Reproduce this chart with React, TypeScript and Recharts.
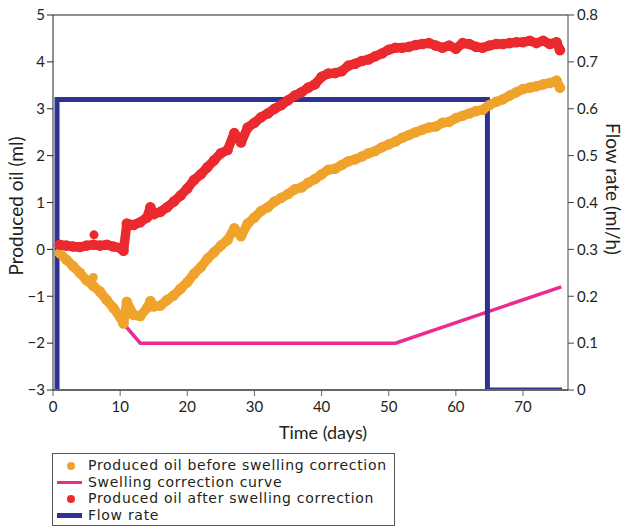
import React from 'react';
import { ComposedChart, Line, Scatter, XAxis, YAxis, ReferenceLine } from 'recharts';

// ---- data ----
const days = [
  1, 2, 3, 4, 5, 6, 7, 8, 9, 10, 10.5, 11, 12, 13, 14, 14.5,
  15, 16, 17, 18, 19, 20, 21, 22, 23, 24, 25, 26, 27, 28, 29, 30,
  31, 32, 33, 34, 35, 36, 37, 38, 39, 40, 41, 42, 43, 44, 45, 46,
  47, 48, 49, 50, 51, 52, 53, 54, 55, 56, 57, 58, 59, 60, 61, 62,
  63, 64, 65, 66, 67, 68, 69, 70, 71, 72, 73, 74, 75, 75.5,
];

const oilBefore = [
  -0.08, -0.22, -0.36, -0.5, -0.66, -0.78, -0.9, -1.08, -1.25, -1.45, -1.58, -1.12, -1.4, -1.42, -1.25, -1.1,
  -1.22, -1.2, -1.08, -0.98, -0.84, -0.7, -0.52, -0.38, -0.2, -0.06, 0.08, 0.2, 0.45, 0.28, 0.55, 0.68,
  0.82, 0.9, 1.02, 1.1, 1.18, 1.28, 1.32, 1.42, 1.5, 1.6, 1.7, 1.72, 1.8, 1.88, 1.92, 1.98,
  2.05, 2.1, 2.18, 2.24, 2.3, 2.38, 2.44, 2.5, 2.55, 2.6, 2.62, 2.7, 2.72, 2.8, 2.85, 2.9,
  2.95, 2.98, 3.08, 3.15, 3.2, 3.28, 3.35, 3.42, 3.45, 3.48, 3.52, 3.55, 3.6, 3.45,
];

const oilAfter = [
  0.1, 0.08, 0.06, 0.05, 0.08, 0.1, 0.08, 0.1, 0.06, 0.03, -0.03, 0.55, 0.52, 0.58, 0.68, 0.9,
  0.75, 0.8, 0.9, 1.02, 1.15, 1.3, 1.48, 1.6, 1.75, 1.9, 2.05, 2.12, 2.48, 2.28, 2.6, 2.7,
  2.82, 2.9, 3.0, 3.08, 3.18, 3.28, 3.35, 3.45, 3.52, 3.68, 3.75, 3.76, 3.8, 3.92, 3.96, 4.02,
  4.05, 4.12, 4.18, 4.26, 4.3, 4.3, 4.32, 4.36, 4.38, 4.4, 4.35, 4.3, 4.35, 4.28, 4.4, 4.38,
  4.32, 4.3, 4.35, 4.38, 4.38, 4.4, 4.42, 4.42, 4.45, 4.4, 4.45, 4.38, 4.42, 4.25,
];

const beforeStrayDays = [6.0];
const beforeStrayOil = [-0.6];
const afterStrayDays = [6.1];
const afterStrayOil = [0.31];

const swellDays = [1, 13, 51, 75.7];
const swellOil = [0, -2, -2, -0.8];

const flowDays = [0.6, 0.6, 64.7, 64.7, 75.8];
const flowRate = [0, 0.62, 0.62, 0, 0];

const xTicks = [0, 10, 20, 30, 40, 50, 60, 70];
const leftTicks = [-3, -2, -1, 0, 1, 2, 3, 4, 5];
const rightTicks = [0, 0.1, 0.2, 0.3, 0.4, 0.5, 0.6, 0.7, 0.8];

const ORANGE = '#f0a32c';
const RED = '#ea2a2f';
const PINK = '#ec2a90';
const BLUE = '#2e3292';
const FONT = 'Lato, "Open Sans", sans-serif';
const LEGEND_FONT = '"DejaVu Sans", Lato, sans-serif';
const TEXT = '#231f20';

const beforeData = days.map((x, i) => ({ x, y: oilBefore[i] }));
const afterData = days.map((x, i) => ({ x, y: oilAfter[i] }));
const beforeStray = beforeStrayDays.map((x, i) => ({ x, y: beforeStrayOil[i] }));
const afterStray = afterStrayDays.map((x, i) => ({ x, y: afterStrayOil[i] }));
const swellData = swellDays.map((x, i) => ({ x, swell: swellOil[i] }));
const flowData = flowDays.map((x, i) => ({ x, flow: flowRate[i] }));

const dot = (color: string, r: number) => (p: any) => (
  <circle cx={p.cx} cy={p.cy} r={r} fill={color} stroke="none" />
);

const fmtLeft = (v: number) => (v < 0 ? '\u2212' + Math.abs(v) : String(v));

const legendRows = [
  { label: 'Produced oil before swelling correction', kind: 'dot', color: ORANGE },
  { label: 'Swelling correction curve', kind: 'line', color: PINK, w: 3 },
  { label: 'Produced oil after swelling correction', kind: 'dot', color: RED },
  { label: 'Flow rate', kind: 'line', color: BLUE, w: 5 },
];

export default function App() {
  return (
    <div style={{ position: 'absolute', left: 0, top: 0, width: 624, height: 527, background: '#fff', fontFamily: FONT }}>
      <ComposedChart width={624} height={445} margin={{ top: 15, right: 0, bottom: 10, left: 0 }}>
        <XAxis
          type="number"
          dataKey="x"
          domain={[0, 76.7]}
          ticks={xTicks}
          allowDataOverflow
          height={45}
          tickSize={6}
          tickMargin={5}
          axisLine={{ stroke: '#666', strokeWidth: 2 }}
          tickLine={{ stroke: '#666' }}
          tick={{ fill: TEXT, fontSize: 15, fontFamily: FONT }}
          label={{
            content: () => (
              <text x={323} y={432} textAnchor="middle" dominantBaseline="central" fill={TEXT} fontSize={18} fontFamily={FONT}>
                Time (days)
              </text>
            ),
          }}
        />
        <YAxis
          yAxisId="left"
          type="number"
          domain={[-3, 5]}
          ticks={leftTicks}
          allowDataOverflow
          width={53}
          tickSize={6}
          tickMargin={2}
          tickFormatter={fmtLeft}
          axisLine={{ stroke: '#222', strokeWidth: 1 }}
          tickLine={{ stroke: '#222' }}
          tick={{ fill: TEXT, fontSize: 15, fontFamily: FONT }}
          label={{
            content: () => (
              <text x={15} y={206} transform="rotate(-90 15 206)" textAnchor="middle" dominantBaseline="central" fill={TEXT} fontSize={19} fontFamily={FONT}>
                Produced oil (ml)
              </text>
            ),
          }}
        />
        <YAxis
          yAxisId="right"
          orientation="right"
          type="number"
          domain={[0, 0.8]}
          ticks={rightTicks}
          allowDataOverflow
          width={56}
          tickSize={6}
          tickMargin={3}
          axisLine={{ stroke: '#444', strokeWidth: 1 }}
          tickLine={{ stroke: '#444' }}
          tick={{ fill: TEXT, fontSize: 15, fontFamily: FONT }}
          label={{
            content: () => (
              <text x={613} y={189} transform="rotate(90 613 189)" textAnchor="middle" dominantBaseline="central" fill={TEXT} fontSize={19} fontFamily={FONT}>
                Flow rate (ml/h)
              </text>
            ),
          }}
        />
        <ReferenceLine yAxisId="left" y={5} stroke="#222" strokeWidth={1} />
        <Line
          yAxisId="left"
          data={swellData}
          dataKey="swell"
          type="linear"
          stroke={PINK}
          strokeWidth={3.5}
          dot={false}
          activeDot={false}
          isAnimationActive={false}
        />
        <Line
          yAxisId="right"
          data={flowData}
          dataKey="flow"
          type="linear"
          stroke={BLUE}
          strokeWidth={5}
          strokeLinejoin="miter"
          dot={false}
          activeDot={false}
          isAnimationActive={false}
        />
        <Scatter
          yAxisId="left"
          data={beforeData}
          dataKey="y"
          fill={ORANGE}
          line={{ stroke: ORANGE, strokeWidth: 9.5, strokeLinejoin: 'round', strokeLinecap: 'round' }}
          lineJointType="linear"
          shape={dot(ORANGE, 5.3)}
          isAnimationActive={false}
        />
        <Scatter yAxisId="left" data={beforeStray} dataKey="y" fill={ORANGE} shape={dot(ORANGE, 4.5)} isAnimationActive={false} />
        <Scatter
          yAxisId="left"
          data={afterData}
          dataKey="y"
          fill={RED}
          line={{ stroke: RED, strokeWidth: 9.5, strokeLinejoin: 'round', strokeLinecap: 'round' }}
          lineJointType="linear"
          shape={dot(RED, 5.3)}
          isAnimationActive={false}
        />
        <Scatter yAxisId="left" data={afterStray} dataKey="y" fill={RED} shape={dot(RED, 4.5)} isAnimationActive={false} />
      </ComposedChart>
      <div
        style={{
          position: 'absolute',
          left: 52,
          top: 453,
          width: 343,
          height: 73,
          border: '1px solid #555',
          boxSizing: 'border-box',
          color: TEXT,
          fontSize: 14,
          letterSpacing: '0.7px',
          fontFamily: LEGEND_FONT,
        }}
      >
        {legendRows.map((r, i) => (
          <div key={r.label} style={{ position: 'absolute', left: 0, top: 3 + i * 16.5, height: 16.5, width: 340 }}>
            {r.kind === 'dot' ? (
              <div
                style={{
                  position: 'absolute',
                  left: 14,
                  top: 4.5,
                  width: 8,
                  height: 8,
                  borderRadius: 4,
                  background: r.color,
                }}
              />
            ) : (
              <div
                style={{
                  position: 'absolute',
                  left: 4,
                  top: 8.5 - (r.w as number) / 2,
                  width: 25,
                  height: r.w,
                  background: r.color,
                }}
              />
            )}
            <span style={{ position: 'absolute', left: 35, top: 0, height: 16.5, lineHeight: '16.5px', whiteSpace: 'nowrap', display: 'block' }}>{r.label}</span>
          </div>
        ))}
      </div>
    </div>
  );
}
